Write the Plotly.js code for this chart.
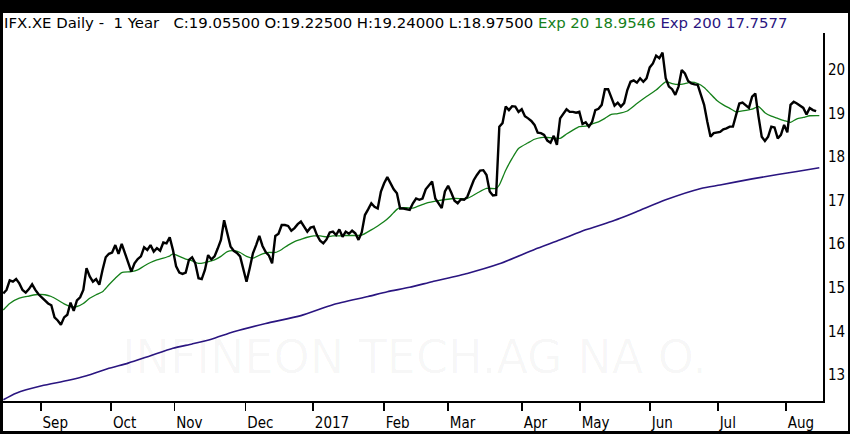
<!DOCTYPE html>
<html>
<head>
<meta charset="utf-8">
<script src="https://cdn.plot.ly/plotly-3.0.1.min.js"></script>
<style>
  html, body { margin: 0; padding: 0; background: #000; }
  #chart { width: 850px; height: 434px; }
</style>
</head>
<body>
<div id="chart"></div>
<script>
// Daily closes, one value per trading day (index 0 = first session shown)
const close = [
  14.87, 14.95, 15.17, 15.14, 15.20, 15.10, 14.95, 14.89, 14.97, 15.08,
  14.95, 14.85, 14.78, 14.70, 14.64, 14.60, 14.32, 14.25, 14.15, 14.32,
  14.38, 14.66, 14.47, 14.71, 14.78, 14.95, 15.45, 15.26, 15.14, 15.20,
  15.07, 15.41, 15.70, 15.78, 15.81, 15.98, 15.78, 16.01, 15.79, 15.56,
  15.37, 15.56, 15.66, 15.72, 15.93, 15.87, 15.98, 15.83, 15.91, 15.85,
  16.04, 16.02, 16.16, 15.87, 15.49, 15.35, 15.32, 15.35, 15.64, 15.70,
  15.56, 15.22, 15.20, 15.41, 15.75, 15.65, 15.72, 15.90, 16.10, 16.55,
  16.25, 15.95, 15.85, 15.80, 15.72, 15.45, 15.14, 15.45, 15.79, 15.98,
  16.19, 15.96, 15.82, 15.74, 15.56, 16.19, 16.24, 16.44, 16.44, 16.42,
  16.31, 16.37, 16.46, 16.52, 16.39, 16.29, 16.38, 16.40, 16.21, 16.08,
  16.02, 16.11, 16.27, 16.29, 16.21, 16.34, 16.17, 16.29, 16.24, 16.31,
  16.25, 16.10, 16.27, 16.67, 16.80, 16.94, 16.86, 16.82, 17.21, 17.40,
  17.54, 17.41, 17.26, 17.17, 16.82, 16.82, 16.80, 16.79, 16.94, 17.05,
  17.02, 17.05, 17.26, 17.34, 17.44, 17.05, 16.94, 16.83, 17.21, 17.34,
  17.18, 17.00, 16.94, 17.03, 17.02, 17.09, 17.28, 17.47, 17.59, 17.69,
  17.70, 17.59, 17.21, 17.12, 17.13, 18.70, 18.78, 19.16, 19.08, 19.17,
  19.16, 19.04, 19.10, 18.94, 18.89, 18.83, 18.74, 18.56, 18.55, 18.51,
  18.38, 18.33, 18.49, 18.28, 18.89, 19.01, 19.10, 19.04, 19.04, 19.02,
  19.04, 18.76, 18.80, 18.70, 18.81, 19.08, 19.11, 19.20, 19.56, 19.56,
  19.35, 19.18, 19.25, 19.16, 19.24, 19.54, 19.73, 19.76, 19.71, 19.81,
  19.73, 19.81, 20.06, 20.15, 20.33, 20.27, 20.40, 19.81, 19.62, 19.56,
  19.43, 19.62, 20.00, 19.92, 19.75, 19.69, 19.67, 19.66, 19.43, 19.20,
  18.81, 18.47, 18.55, 18.57, 18.58, 18.64, 18.66, 18.70, 18.70, 18.97,
  19.23, 19.25, 19.18, 19.13, 19.39, 19.46, 18.93, 18.47, 18.37, 18.47,
  18.70, 18.68, 18.43, 18.51, 18.74, 18.57, 19.20, 19.27, 19.23, 19.17,
  19.13, 18.98, 19.13, 19.08, 19.055
];
const closeDay = close.map((v, i) => i);

// Exponential moving average, 20 sessions (sampled days)
const ema20Day = [0, 2, 5, 8, 10, 13, 15, 17, 19, 21, 23, 25, 27, 29, 31, 33, 35, 37, 40, 42,
  44, 46, 48, 50, 52, 53, 55, 57, 59, 61, 63, 66, 68, 70, 72, 74, 76, 78, 81, 83,
  85, 87, 89, 91, 93, 95, 97, 99, 101, 103, 105, 107, 109, 112, 115, 117, 119, 121, 123, 124,
  126, 128, 132, 136, 141, 145, 148, 151, 154, 155, 157, 159, 161, 164, 166, 168, 170, 172, 174, 176,
  178, 180, 182, 184, 186, 188, 190, 192, 195, 198, 201, 204, 207, 209, 211, 213, 215, 217, 219, 221,
  223, 225, 227, 229, 231, 234, 236, 238, 240, 242, 244, 246, 248, 250, 252, 255];
const ema20 = [14.49, 14.64, 14.76, 14.81, 14.84, 14.84, 14.80, 14.72, 14.63, 14.57, 14.57, 14.64, 14.76, 14.84, 14.91, 15.07, 15.22, 15.35, 15.37, 15.41,
  15.50, 15.58, 15.64, 15.68, 15.73, 15.78, 15.72, 15.66, 15.62, 15.56, 15.58, 15.64, 15.72, 15.83, 15.85, 15.81, 15.72, 15.68, 15.78, 15.81,
  15.81, 15.88, 15.98, 16.06, 16.11, 16.16, 16.19, 16.19, 16.17, 16.19, 16.19, 16.20, 16.20, 16.21, 16.33, 16.42, 16.52, 16.65, 16.80, 16.84,
  16.84, 16.83, 16.94, 17.00, 17.05, 17.05, 17.17, 17.28, 17.28, 17.36, 17.70, 17.97, 18.20, 18.33, 18.41, 18.45, 18.45, 18.44, 18.43, 18.53,
  18.62, 18.70, 18.71, 18.76, 18.81, 18.89, 18.98, 19.00, 19.06, 19.23, 19.39, 19.54, 19.73, 19.69, 19.67, 19.69, 19.72, 19.69, 19.60, 19.45,
  19.30, 19.20, 19.12, 19.04, 19.06, 19.10, 19.16, 19.02, 18.94, 18.89, 18.84, 18.80, 18.88, 18.91, 18.95, 18.9546];

// Exponential moving average, 200 sessions (sampled days)
const ema200Day = [0, 4, 12, 20, 26, 33, 39, 46, 53, 59, 65, 72, 82, 93, 103, 114, 120, 127, 134, 145,
  155, 166, 174, 182, 190, 198, 207, 218, 224, 234, 242, 248, 255];
const ema200 = [12.43, 12.58, 12.75, 12.87, 12.98, 13.15, 13.27, 13.44, 13.61, 13.71, 13.82, 13.99, 14.18, 14.36, 14.61, 14.80, 14.91, 15.01, 15.14, 15.33,
  15.55, 15.88, 16.10, 16.33, 16.52, 16.75, 17.02, 17.28, 17.36, 17.50, 17.60, 17.67, 17.7577];

// Month ticks (session boundary positions) and labels
const monthTickDay = [11.7, 33.7, 53.5, 75.7, 96.8, 119, 139, 162.1, 180.2, 202.1, 223.3, 244.6];
const monthLabels = ['Sep', 'Oct', 'Nov', 'Dec', '2017', 'Feb', 'Mar', 'Apr', 'May', 'Jun', 'Jul', 'Aug'];
const priceTicks = [13, 14, 15, 16, 17, 18, 19, 20];

const traces = [
  { x: ema200Day, y: ema200, type: 'scatter', mode: 'lines',
    line: { color: '#2a1580', width: 1.6, shape: 'spline', smoothing: 0.6 }, hoverinfo: 'skip' },
  { x: ema20Day, y: ema20, type: 'scatter', mode: 'lines',
    line: { color: '#15801a', width: 1.3, shape: 'spline', smoothing: 0.6 }, hoverinfo: 'skip' },
  { x: closeDay, y: close, type: 'scatter', mode: 'lines',
    line: { color: '#000000', width: 2.4 }, hoverinfo: 'skip' }
];

const axisFont = { family: 'DejaVu Sans Condensed, DejaVu Sans, sans-serif', size: 15, color: '#000' };

const layout = {
  width: 850, height: 434,
  paper_bgcolor: '#000000',
  plot_bgcolor: '#ffffff',
  margin: { l: 3, r: 27, t: 33, b: 33, pad: 0 },
  showlegend: false,
  title: {
    text: 'IFX.XE Daily -&nbsp; 1 Year &nbsp; C:19.05500 O:19.22500 H:19.24000 L:18.97500 ' +
          '<span style="color:#15801a">Exp 20 18.9546</span> ' +
          '<span style="color:#2a1580">Exp 200 17.7577</span>',
    font: { family: 'DejaVu Sans, sans-serif', size: 14.9, color: '#000' },
    x: 4 / 850, xref: 'container', xanchor: 'left',
    y: 1 - 23 / 434, yref: 'container', yanchor: 'middle'
  },
  xaxis: {
    range: [-0.1, 256.15],
    showgrid: false, zeroline: false,
    showline: true, linecolor: '#000', linewidth: 2,
    ticks: 'outside', ticklen: 8, tickwidth: 1.5, tickcolor: '#000',
    tickmode: 'array', tickvals: monthTickDay, ticktext: monthLabels,
    ticklabelposition: 'outside right',
    ticklabelstandoff: 7,
    tickfont: axisFont,
    fixedrange: true
  },
  yaxis: {
    side: 'right',
    range: [12.40, 20.85],
    showgrid: false, zeroline: false,
    showline: true, linecolor: '#000', linewidth: 2,
    ticks: '',
    tickmode: 'array', tickvals: priceTicks,
    tickfont: axisFont,
    fixedrange: true
  },
  shapes: [{
    type: 'rect', xref: 'paper', yref: 'paper',
    x0: 0, x1: 1.0305, y0: -0.0815, y1: 1.0543,
    fillcolor: '#ffffff', line: { width: 0 }, layer: 'below'
  }],
  annotations: [{
    text: 'INFINEON TECH.AG NA O.',
    xref: 'paper', yref: 'paper',
    x: 0.502, y: 0.12, xanchor: 'center', yanchor: 'middle',
    showarrow: false,
    font: { family: 'DejaVu Sans, sans-serif', size: 46, color: 'rgba(0,0,0,0.03)' }
  }]
};

Plotly.newPlot('chart', traces, layout, { displayModeBar: false, staticPlot: true });
</script>
</body>
</html>
